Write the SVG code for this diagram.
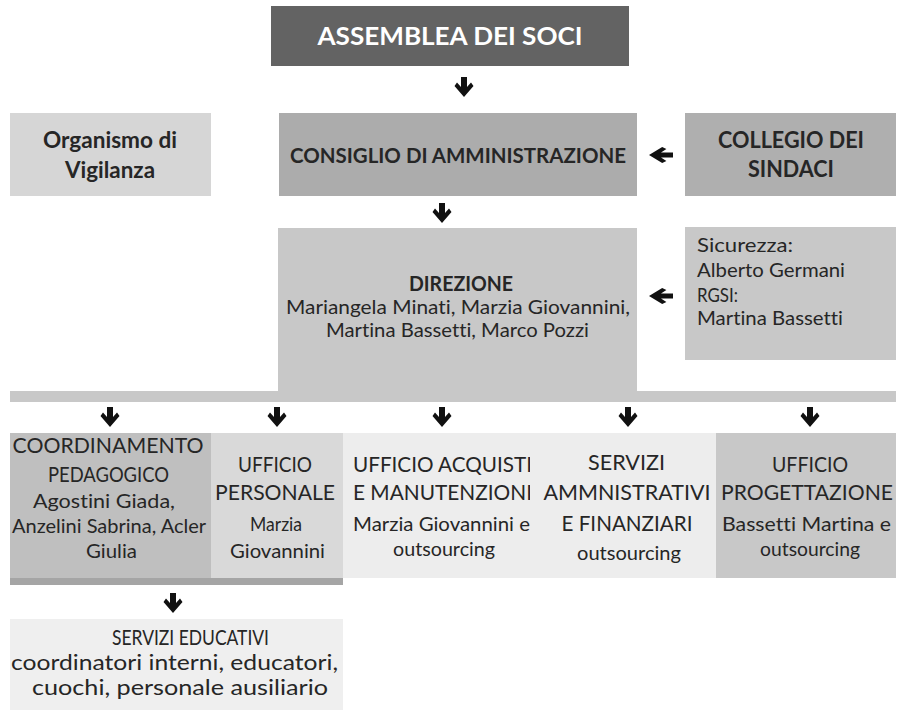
<svg xmlns="http://www.w3.org/2000/svg" xmlns:xlink="http://www.w3.org/1999/xlink" width="897" height="710" viewBox="0 0 897 710">
<style>
text{font-family:Lato,"Open Sans","Liberation Sans",sans-serif;fill:#262626;text-anchor:middle;font-variant-ligatures:none}
.b{font-weight:bold}
.s{text-anchor:start}
.w{fill:#ffffff}
.arrow{fill:#111111}
</style>
<defs>
<path id="ad" d="M-3,0 H3 V10 L7,5.5 L9.5,9 L0,20 L-9.5,9 L-7,5.5 L-3,10 Z"/>
</defs>
<rect width="897" height="710" fill="#ffffff"/>

<g id="assemblea">
<rect x="271" y="6" width="358" height="60" fill="#636363"/>
<text class="b w" x="450" y="45" font-size="25" textLength="265" lengthAdjust="spacingAndGlyphs">ASSEMBLEA DEI SOCI</text>
</g>

<g id="organismo">
<rect x="10" y="113" width="201" height="83" fill="#d6d6d6"/>
<text class="b" x="110" y="148" font-size="22" textLength="134" lengthAdjust="spacingAndGlyphs">Organismo di</text>
<text class="b" x="110" y="178" font-size="22" textLength="90" lengthAdjust="spacingAndGlyphs">Vigilanza</text>
</g>

<g id="consiglio">
<rect x="279" y="113" width="358" height="83" fill="#acacac"/>
<text class="b" x="458" y="163" font-size="21" textLength="336" lengthAdjust="spacingAndGlyphs">CONSIGLIO DI AMMINISTRAZIONE</text>
</g>

<g id="collegio">
<rect x="685" y="113" width="211" height="83" fill="#afafaf"/>
<text class="b" x="791" y="148" font-size="22" textLength="146" lengthAdjust="spacingAndGlyphs">COLLEGIO DEI</text>
<text class="b" x="791" y="177" font-size="22" textLength="86" lengthAdjust="spacingAndGlyphs">SINDACI</text>
</g>

<g id="direzione">
<rect x="278" y="228" width="359" height="163" fill="#c8c8c8"/>
<text class="b" x="461" y="291" font-size="20" textLength="104" lengthAdjust="spacingAndGlyphs">DIREZIONE</text>
<text x="458" y="314" font-size="20" textLength="344" lengthAdjust="spacingAndGlyphs">Mariangela Minati, Marzia Giovannini,</text>
<text x="457.5" y="337" font-size="20" textLength="263" lengthAdjust="spacingAndGlyphs">Martina Bassetti, Marco Pozzi</text>
</g>

<g id="sicurezza">
<rect x="685" y="227" width="211" height="133" fill="#c8c8c8"/>
<text class="s" x="697" y="252" font-size="20" textLength="96" lengthAdjust="spacingAndGlyphs">Sicurezza:</text>
<text class="s" x="697" y="277" font-size="20" textLength="148" lengthAdjust="spacingAndGlyphs">Alberto Germani</text>
<text class="s" x="697" y="302" font-size="20" textLength="41" lengthAdjust="spacingAndGlyphs">RGSI:</text>
<text class="s" x="697" y="325" font-size="20" textLength="146" lengthAdjust="spacingAndGlyphs">Martina Bassetti</text>
</g>

<g id="barra">
<rect x="10" y="391" width="886" height="11" fill="#c8c8c8"/>
</g>

<g id="coordinamento">
<rect x="10" y="433" width="201" height="145" fill="#bfbfbf"/>
<text x="108" y="453" font-size="21" textLength="191" lengthAdjust="spacingAndGlyphs">COORDINAMENTO</text>
<text x="108.5" y="482" font-size="21" textLength="121" lengthAdjust="spacingAndGlyphs">PEDAGOGICO</text>
<text x="104" y="508" font-size="20" textLength="142" lengthAdjust="spacingAndGlyphs">Agostini Giada,</text>
<text x="109" y="533" font-size="20" textLength="194" lengthAdjust="spacingAndGlyphs">Anzelini Sabrina, Acler</text>
<text x="111.5" y="558" font-size="20" textLength="51" lengthAdjust="spacingAndGlyphs">Giulia</text>
</g>

<g id="personale">
<rect x="211" y="433" width="132" height="145" fill="#d9d9d9"/>
<text x="275" y="472" font-size="21" textLength="74" lengthAdjust="spacingAndGlyphs">UFFICIO</text>
<text x="275" y="500" font-size="21" textLength="120" lengthAdjust="spacingAndGlyphs">PERSONALE</text>
<text x="276" y="531" font-size="20" textLength="52" lengthAdjust="spacingAndGlyphs">Marzia</text>
<text x="277.5" y="558" font-size="20" textLength="95" lengthAdjust="spacingAndGlyphs">Giovannini</text>
</g>

<g id="sottobarra">
<rect x="10" y="578" width="333" height="7" fill="#a5a5a5"/>
</g>

<g id="acquisti">
<rect x="343" y="433" width="187" height="145" fill="#ededed"/>
<text x="442.5" y="472" font-size="21" textLength="179" lengthAdjust="spacingAndGlyphs">UFFICIO ACQUISTI</text>
<text x="442.5" y="500" font-size="21" textLength="179" lengthAdjust="spacingAndGlyphs">E MANUTENZIONI</text>
<text x="441.5" y="531" font-size="20" textLength="177" lengthAdjust="spacingAndGlyphs">Marzia Giovannini e</text>
<text x="444" y="556" font-size="20" textLength="102" lengthAdjust="spacingAndGlyphs">outsourcing</text>
</g>

<g id="amministrativi">
<rect x="530" y="433" width="186" height="145" fill="#ededed"/>
<text x="626.5" y="470" font-size="21" textLength="77" lengthAdjust="spacingAndGlyphs">SERVIZI</text>
<text x="627" y="500" font-size="21" textLength="167" lengthAdjust="spacingAndGlyphs">AMMNISTRATIVI</text>
<text x="627" y="531" font-size="21" textLength="131" lengthAdjust="spacingAndGlyphs">E FINANZIARI</text>
<text x="629" y="560" font-size="20" textLength="104" lengthAdjust="spacingAndGlyphs">outsourcing</text>
</g>

<g id="progettazione">
<rect x="716" y="433" width="180" height="145" fill="#c8c8c8"/>
<text x="810" y="472" font-size="21" textLength="76" lengthAdjust="spacingAndGlyphs">UFFICIO</text>
<text x="807" y="500" font-size="21" textLength="172" lengthAdjust="spacingAndGlyphs">PROGETTAZIONE</text>
<text x="806.5" y="531" font-size="20" textLength="169" lengthAdjust="spacingAndGlyphs">Bassetti Martina e</text>
<text x="810" y="556" font-size="20" textLength="100" lengthAdjust="spacingAndGlyphs">outsourcing</text>
</g>

<g id="servizi-educativi">
<rect x="10" y="619" width="333" height="91" fill="#efefef"/>
<text class="s" x="112" y="645" font-size="21" textLength="157" lengthAdjust="spacingAndGlyphs">SERVIZI EDUCATIVI</text>
<text class="s" x="11" y="670" font-size="21" textLength="327" lengthAdjust="spacingAndGlyphs">coordinatori interni, educatori,</text>
<text class="s" x="32" y="695" font-size="21" textLength="296" lengthAdjust="spacingAndGlyphs">cuochi, personale ausiliario</text>
</g>

<g id="connectors" class="arrow">
<use xlink:href="#ad" href="#ad" x="464" y="77"/>
<use xlink:href="#ad" href="#ad" x="442" y="203"/>
<use xlink:href="#ad" href="#ad" x="110" y="407"/>
<use xlink:href="#ad" href="#ad" x="277" y="407"/>
<use xlink:href="#ad" href="#ad" x="442" y="407"/>
<use xlink:href="#ad" href="#ad" x="628" y="407"/>
<use xlink:href="#ad" href="#ad" x="810" y="407"/>
<use xlink:href="#ad" href="#ad" x="173" y="593"/>
<use xlink:href="#ad" href="#ad" transform="translate(673,155) rotate(90) scale(0.85,1.2)"/>
<use xlink:href="#ad" href="#ad" transform="translate(673,296) rotate(90) scale(0.85,1.2)"/>
</g>
</svg>
